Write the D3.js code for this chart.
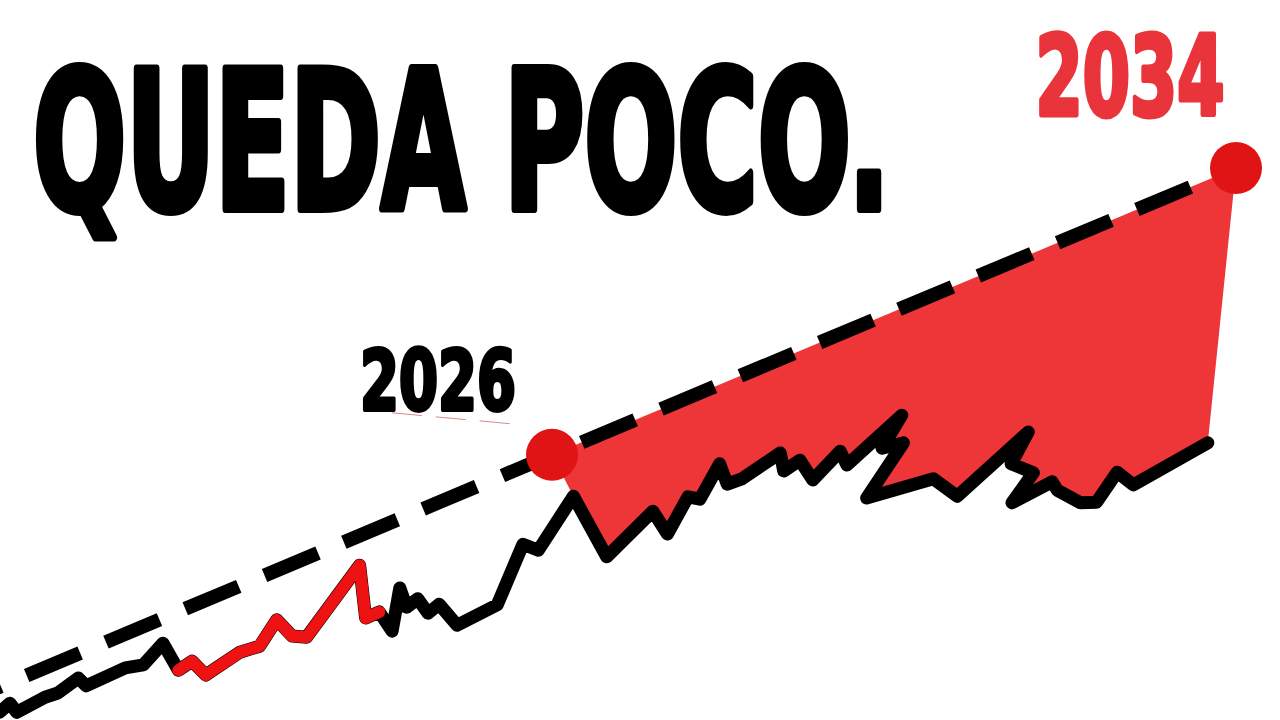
<!DOCTYPE html>
<html>
<head>
<meta charset="utf-8">
<script src="https://cdn.jsdelivr.net/npm/d3@7"></script>
<style>
    html, body { margin: 0; padding: 0; background: #ffffff; }
    svg { display: block; }
</style>
</head>
<body>
<div id="grafico"></div>
<script>
/* Datos de la serie (año, valor del indice) */
var anios = [
    2019.54, 2019.66, 2019.74, 2020.07, 2020.22, 2020.46, 2020.55, 2021.01, 2021.22, 2021.45,
    2021.63, 2021.79, 2021.95, 2022.35, 2022.58, 2022.78, 2022.96, 2023.13, 2023.75, 2023.82,
    2023.98, 2024.13, 2024.22, 2024.30, 2024.43, 2024.55, 2024.68, 2024.89, 2025.36, 2025.66,
    2025.84, 2026.25, 2026.64, 2027.18, 2027.35, 2027.59, 2027.73, 2027.96, 2028.05, 2028.22,
    2028.67, 2028.71, 2028.90, 2029.05, 2029.37, 2029.45, 2030.09, 2029.86, 2030.11, 2029.68,
    2030.46, 2030.74, 2031.57, 2031.37, 2031.63, 2031.38, 2031.85, 2031.91, 2032.18, 2032.37,
    2032.61, 2032.80, 2033.67
];
var valores = [
    1.3, 2.8, 1.3, 3.8, 4.5, 7.0, 5.7, 8.7, 9.2, 12.8,
    8.3, 9.8, 7.5, 11.3, 12.3, 16.7, 14.0, 13.8, 25.8, 17.0,
    18.0, 14.8, 22.0, 18.8, 20.2, 17.8, 19.3, 15.8, 19.2, 29.3,
    28.3, 37.3, 27.2, 34.8, 31.0, 37.2, 36.8, 42.7, 39.3, 40.2,
    44.5, 41.5, 43.3, 40.0, 44.8, 42.5, 50.8, 45.3, 46.2, 37.0,
    40.2, 37.3, 48.0, 42.7, 41.2, 36.2, 39.7, 38.3, 36.2, 36.3,
    41.3, 39.2, 46.2
];

/* Tramo resaltado en rojo */
var tramoRojo = [2021.63, 2023.98];

/* Linea de tendencia */
var tendenciaAnios = [2019.5, 2026, 2034];
var tendenciaValores = [5.3, 44.2, 92.0];

/* Hitos y textos */
var hitos = [2026, 2034];
var hitosTexto = ["2026", "2034"];
var titulo = "QUEDA POCO.";

function grafico() {
    var w = 1280,
        h = 720;

    var palette = {
        "black": "#000000",
        "fill": "#EE3538",
        "line": "#EE1212",
        "dot": "#E01414",
        "label": "#E8343A"
    };

    var fontFamily = "'DejaVu Sans Condensed', 'DejaVu Sans', sans-serif";

    var x = d3.scaleLinear().domain([2026, 2034]).range([552, 1236]);
    var y = d3.scaleLinear().domain([0, 100]).range([720, 120]);

    var puntos = [];
    for (var i = 0; i < anios.length; i++) {
        puntos.push({anio: anios[i], valor: valores[i], idx: i});
    }
    var tendencia = [];
    for (i = 0; i < tendenciaAnios.length; i++) {
        tendencia.push({anio: tendenciaAnios[i], valor: tendenciaValores[i]});
    }

    var linea = d3.line()
        .x(function(d) { return x(d.anio); })
        .y(function(d) { return y(d.valor); });

    var vis = d3.select("#grafico")
        .append("svg")
        .attr("width", w)
        .attr("height", h);

    //AREA ROJA entre tendencia y serie
    var desde = puntos.findIndex(function(d) { return d.anio >= hitos[0]; });
    var poligono = tendencia.filter(function(d) { return d.anio >= hitos[0]; })
        .concat(puntos.slice(desde).reverse());

    vis.append("path")
        .attr("d", linea(poligono) + "Z")
        .attr("fill", palette.fill)
        .attr("stroke", "none");

    //TENDENCIA discontinua
    vis.append("path")
        .attr("d", linea(tendencia))
        .attr("fill", "none")
        .attr("stroke", palette.black)
        .attr("stroke-width", 14)
        .attr("stroke-dasharray", "58,28")
        .attr("stroke-dashoffset", 53);

    //SERIE
    vis.append("path")
        .attr("d", linea(puntos))
        .attr("fill", "none")
        .attr("stroke", palette.black)
        .attr("stroke-width", 13)
        .attr("stroke-linejoin", "round")
        .attr("stroke-linecap", "round");

    var rojo = puntos.filter(function(d) {
        return d.anio >= tramoRojo[0] && d.anio <= tramoRojo[1];
    });
    vis.append("path")
        .attr("d", linea(rojo))
        .attr("fill", "none")
        .attr("stroke", palette.line)
        .attr("stroke-width", 12)
        .attr("stroke-linejoin", "round")
        .attr("stroke-linecap", "round");

    //conector fino del rotulo 2026
    var t0 = tendencia[1];
    vis.append("line")
        .attr("x1", x(t0.anio) - 160)
        .attr("y1", y(t0.valor) - 42)
        .attr("x2", x(t0.anio) - 30)
        .attr("y2", y(t0.valor) - 30)
        .attr("stroke", "#c0393b")
        .attr("stroke-width", 1)
        .attr("stroke-opacity", 0.6)
        .attr("stroke-dasharray", "30,14");

    //PUNTOS
    var marcas = tendencia.filter(function(d) { return hitos.indexOf(d.anio) >= 0; });
    vis.selectAll("circle.hito")
        .data(marcas)
        .enter().append("circle")
        .attr("class", "hito")
        .attr("cx", function(d) { return x(d.anio); })
        .attr("cy", function(d) { return y(d.valor); })
        .attr("r", 26)
        .attr("fill", palette.dot);

    //TEXTOS: se mide el ancho natural y se estrecha con scale para encajar
    var rotulos = [
        {texto: titulo, x: 33, y: 209, len: 857, size: 192, color: palette.black, sw: 8},
        {texto: hitosTexto[0], x: 360, y: 410, len: 156, size: 84, color: palette.black, sw: 4},
        {texto: hitosTexto[1], x: 1035.5, y: 114.5, len: 189, size: 110, color: palette.label, sw: 5}
    ];
    vis.selectAll("text.rotulo")
        .data(rotulos)
        .enter().append("text")
        .attr("class", "rotulo")
        .text(function(d) { return d.texto; })
        .attr("x", 0)
        .attr("y", 0)
        .attr("font-family", fontFamily)
        .attr("font-weight", "bold")
        .attr("font-size", function(d) { return d.size; })
        .attr("fill", function(d) { return d.color; })
        .attr("stroke", function(d) { return d.color; })
        .attr("stroke-width", function(d) { return d.sw; })
        .attr("stroke-linejoin", "round")
        .attr("transform", function(d) {
            var natural = this.getComputedTextLength();
            var sx = d.len / natural;
            return "translate(" + d.x + "," + d.y + ") scale(" + sx + ",1)";
        });
}

grafico();
</script>
</body>
</html>
